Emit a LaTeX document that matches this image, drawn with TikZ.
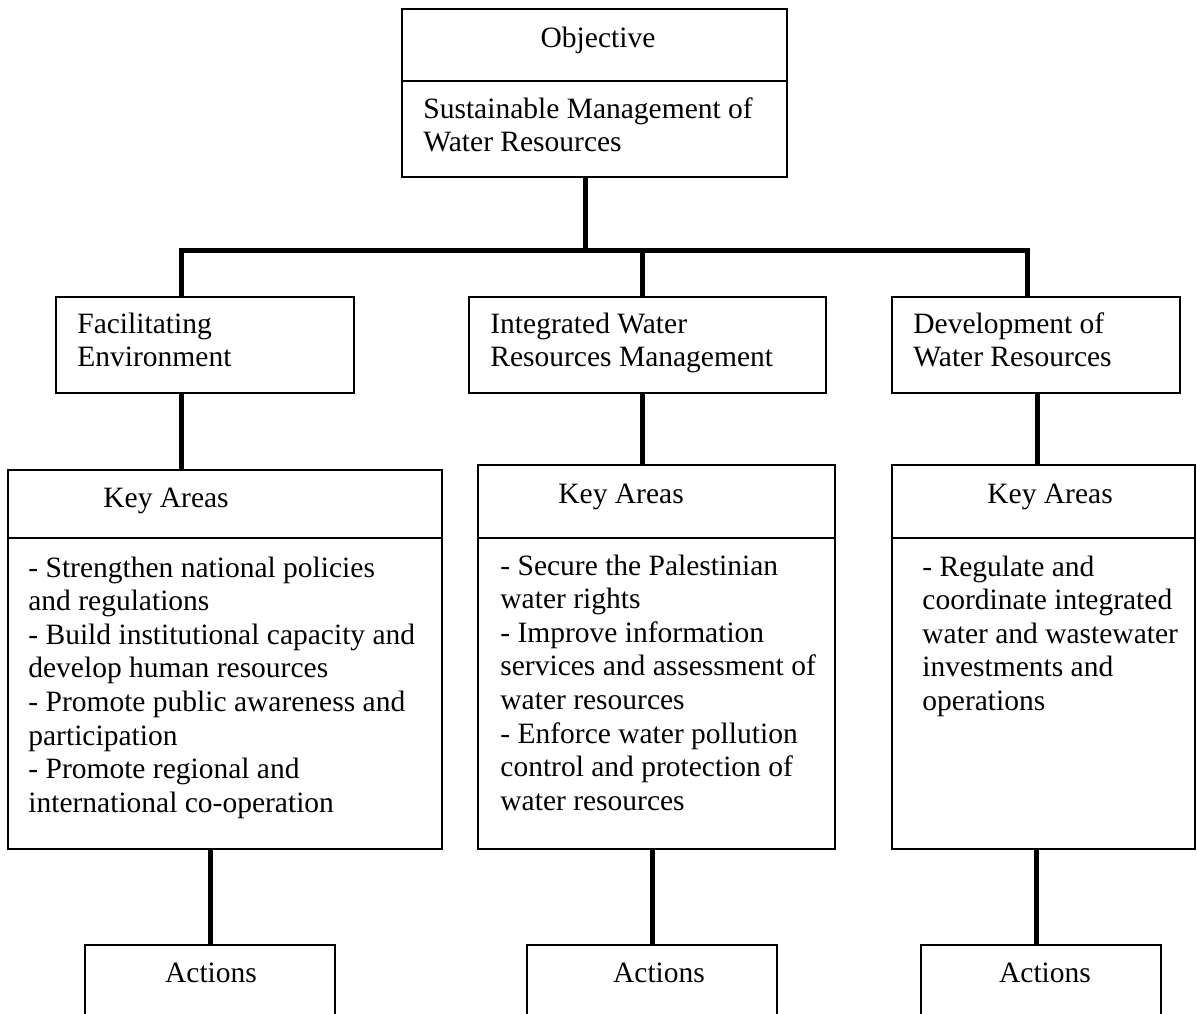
\documentclass[tikz,border=0pt]{standalone}
\usepackage{fontspec}
\setmainfont{Liberation Serif}
\usetikzlibrary{fit}

% stacked left-aligned lines; the node's baseline is that of the first line
\newcommand\textrows[1]{\begin{tabular}[t]{@{}l@{}}#1\end{tabular}}

\tikzset{
  box/.style={draw, line width=0.8pt, inner sep=0pt},
  rulebar/.style={line width=0.8pt},
  conn/.style={line width=2.5pt},
  txt/.style={anchor=base west, inner sep=0pt, font=\fontsize{14.75}{16.8}\selectfont},
  ctxt/.style={anchor=base, inner sep=0pt, font=\fontsize{14.75}{16.8}\selectfont},
}

\begin{document}
\begin{tikzpicture}[x=0.5pt, y=-0.5pt]
  \clip (0,0) rectangle (1197,1013);
  \fill[white] (0,0) rectangle (1197,1013);

  % column and level coordinates
  \coordinate (bar) at (0,250);
  \coordinate (cA) at (181,0);
  \coordinate (cB) at (642,0);
  \coordinate (cC) at (1027,0);
  \coordinate (cTop) at (585,0);
  \coordinate (dC) at (1037,0);
  \coordinate (eA) at (210,0);
  \coordinate (eB) at (652,0);
  \coordinate (eC) at (1036,0);
  \coordinate (odiv) at (0,81);
  \coordinate (kdiv) at (0,538);

  % objective
  \node[box, fit={(402,9) (787,177)}] (obj) {};
  \draw[rulebar] (obj.west |- odiv) -- (obj.east |- odiv);
  \node[ctxt] (objt) at (598,47) {Objective};
  \node[txt] (objg) at (423,118) {\textrows{Sustainable Management of\\Water Resources}};

  % strategic areas
  \node[box, fit={(56,297) (354,393)}] (fac) {};
  \node[box, fit={(469,297) (826,393)}] (iwr) {};
  \node[box, fit={(892,297) (1180,393)}] (dev) {};
  \node[txt] (fact) at (77,333) {\textrows{Facilitating\\Environment}};
  \node[txt] (iwrt) at (490,333) {\textrows{Integrated Water\\Resources Management}};
  \node[txt] (devt) at (913,333) {\textrows{Development of\\Water Resources}};

  % key areas
  \node[box, fit={(8,470) (442,849)}] (key1) {};
  \node[box, fit={(478,465) (835,849)}] (key2) {};
  \node[box, fit={(892,465) (1195,849)}] (key3) {};
  \draw[rulebar] (key1.west |- kdiv) -- (key1.east |- kdiv);
  \draw[rulebar] (key2.west |- kdiv) -- (key2.east |- kdiv);
  \draw[rulebar] (key3.west |- kdiv) -- (key3.east |- kdiv);
  \node[txt] (k1h) at (103,507) {Key Areas};
  \node[txt] (k2h) at (558,503) {Key Areas};
  \node[txt] (k3h) at (987,503) {Key Areas};
  \node[txt] (k1l) at (28,577) {\textrows{%
    - Strengthen national policies\\
    and regulations\\
    - Build institutional capacity and\\
    develop human resources\\
    - Promote public awareness and\\
    participation\\
    - Promote regional and\\
    international co-operation}};
  \node[txt] (k2l) at (500,575) {\textrows{%
    - Secure the Palestinian\\
    water rights\\
    - Improve information\\
    services and assessment of\\
    water resources\\
    - Enforce water pollution\\
    control and protection of\\
    water resources}};
  \node[txt] (k3l) at (922,576) {\textrows{%
    - Regulate and\\
    coordinate integrated\\
    water and wastewater\\
    investments and\\
    operations}};

  % actions (running past the lower edge)
  \node[box, fit={(85,945) (335,1040)}] (act1) {};
  \node[box, fit={(527,945) (777,1040)}] (act2) {};
  \node[box, fit={(921,945) (1161,1040)}] (act3) {};
  \node[ctxt] (a1t) at (211,982) {Actions};
  \node[ctxt] (a2t) at (659,982) {Actions};
  \node[ctxt] (a3t) at (1045,982) {Actions};

  % connectors
  \draw[conn] (obj.south -| cTop) -- (cTop |- bar);
  \draw[conn] (fac.north -| cA) -- (cA |- bar) -- (cC |- bar) -- (dev.north -| cC);
  \draw[conn] (cB |- bar) -- (iwr.north -| cB);
  \draw[conn] (fac.south -| cA) -- (key1.north -| cA);
  \draw[conn] (iwr.south -| cB) -- (key2.north -| cB);
  \draw[conn] (dev.south -| dC) -- (key3.north -| dC);
  \draw[conn] (key1.south -| eA) -- (act1.north -| eA);
  \draw[conn] (key2.south -| eB) -- (act2.north -| eB);
  \draw[conn] (key3.south -| eC) -- (act3.north -| eC);
\end{tikzpicture}
\end{document}
